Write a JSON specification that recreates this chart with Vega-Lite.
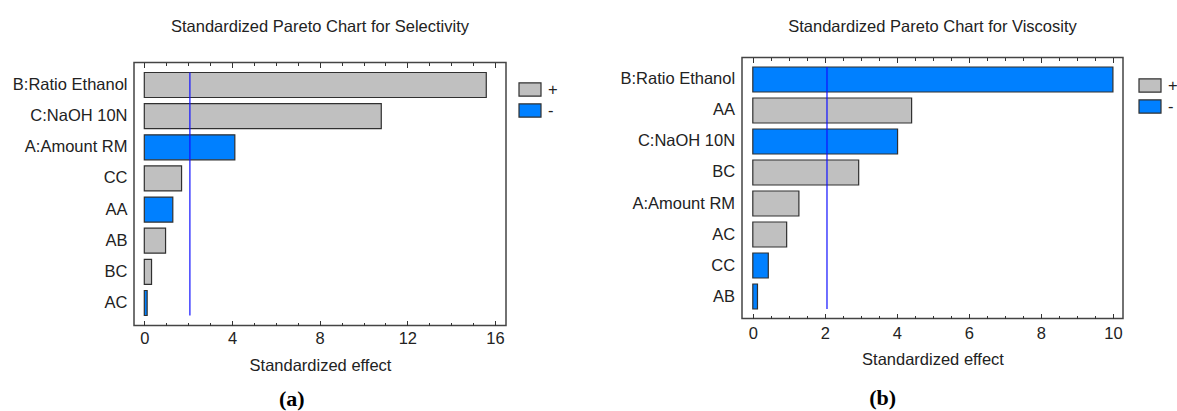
{
  "$schema": "https://vega.github.io/schema/vega-lite/v6.json",
  "padding": {"left": 11, "top": 16.5, "right": 0, "bottom": 0},
  "background": "white",
  "spacing": 61,
  "resolve": {"scale": {"color": "independent", "x": "independent", "y": "independent"}, "legend": {"color": "independent"}},
  "hconcat": [
    {
      "title": {"text": "(a)", "orient": "bottom", "font": "Liberation Serif", "fontSize": 22, "fontWeight": "bold", "color": "#000", "anchor": "middle", "offset": 14, "dx": 7},
      "spacing": 0,
      "vconcat": [
        {"width": 372, "height": 1, "view": {"stroke": null}, "data": {"values": []}, "mark": "text"},
        {
          "width": 372,
          "height": 263,
          "title": {"text": "Standardized Pareto Chart for Selectivity", "offset": 26.5},
          "data": {"values": [
            {"factor": "B:Ratio Ethanol", "effect": 15.6, "sign": "+"},
            {"factor": "C:NaOH 10N", "effect": 10.81, "sign": "+"},
            {"factor": "A:Amount RM", "effect": 4.13, "sign": "-"},
            {"factor": "CC", "effect": 1.7, "sign": "+"},
            {"factor": "AA", "effect": 1.3, "sign": "-"},
            {"factor": "AB", "effect": 0.97, "sign": "+"},
            {"factor": "BC", "effect": 0.33, "sign": "+"},
            {"factor": "AC", "effect": 0.13, "sign": "-"}
          ]},
          "resolve": {"axis": {"x": "independent"}},
          "layer": [
            {
              "mark": {"type": "bar", "stroke": "#303030", "strokeWidth": 1.2},
              "encoding": {
                "y": {"field": "factor", "type": "nominal", "sort": null,
                  "scale": {"domain": ["B:Ratio Ethanol", "C:NaOH 10N", "A:Amount RM", "CC", "AA", "AB", "BC", "AC"], "paddingInner": 0.197, "paddingOuter": 0.321},
                  "axis": {"title": null, "ticks": false, "labelPadding": 7}},
                "x": {"field": "effect", "type": "quantitative",
                  "scale": {"domain": [-0.47, 16.5], "nice": false, "zero": false},
                  "axis": {"orient": "bottom", "title": "Standardized effect", "values": [0,1,2,3,4,5,6,7,8,9,10,11,12,13,14,15,16],
                    "labelExpr": "datum.value % 4 === 0 ? datum.label : ''",
                    "tickSize": {"condition": {"test": "datum.value % 4 === 0", "value": -5}, "value": -3},
                    "labelPadding": 10, "labelOverlap": false, "labelFlush": false, "titlePadding": 8.5}},
                "color": {"field": "sign", "type": "nominal",
                  "scale": {"domain": ["+", "-"], "range": ["#C0C0C0", "#0080FF"]},
                  "legend": {"legendX": 384, "legendY": 61}}
              }
            },
            {
              "data": {"values": [{"crit": 2.08}]},
              "mark": {"type": "rule", "color": "#1010FF", "strokeWidth": 1.2},
              "encoding": {
                "x": {"field": "crit", "type": "quantitative",
                  "axis": {"orient": "top", "title": null, "labels": false, "values": [0,1,2,3,4,5,6,7,8,9,10,11,12,13,14,15,16],
                    "tickSize": {"condition": {"test": "datum.value % 4 === 0", "value": -5}, "value": -3}}},
                "y": {"datum": "B:Ratio Ethanol", "type": "nominal", "bandPosition": 0},
                "y2": {"datum": "AC", "bandPosition": 1}
              }
            }
          ]
        }
      ]
    },
    {
      "title": {"text": "(b)", "orient": "bottom", "font": "Liberation Serif", "fontSize": 22, "fontWeight": "bold", "color": "#000", "anchor": "middle", "offset": 19, "dx": -16},
      "spacing": 0,
      "vconcat": [
        {"width": 381, "height": 1, "view": {"stroke": null}, "data": {"values": []}, "mark": "text"},
        {
          "width": 381,
          "height": 261,
          "title": {"text": "Standardized Pareto Chart for Viscosity", "offset": 21.9},
          "data": {"values": [
            {"factor": "B:Ratio Ethanol", "effect": 10.0, "sign": "-"},
            {"factor": "AA", "effect": 4.41, "sign": "+"},
            {"factor": "C:NaOH 10N", "effect": 4.02, "sign": "-"},
            {"factor": "BC", "effect": 2.94, "sign": "+"},
            {"factor": "A:Amount RM", "effect": 1.28, "sign": "+"},
            {"factor": "AC", "effect": 0.94, "sign": "+"},
            {"factor": "CC", "effect": 0.43, "sign": "-"},
            {"factor": "AB", "effect": 0.13, "sign": "-"}
          ]},
          "resolve": {"axis": {"x": "independent"}},
          "layer": [
            {
              "mark": {"type": "bar", "stroke": "#303030", "strokeWidth": 1.2},
              "encoding": {
                "y": {"field": "factor", "type": "nominal", "sort": null,
                  "scale": {"domain": ["B:Ratio Ethanol", "AA", "C:NaOH 10N", "BC", "A:Amount RM", "AC", "CC", "AB"], "paddingInner": 0.194, "paddingOuter": 0.306},
                  "axis": {"title": null, "ticks": false, "labelPadding": 7.4}},
                "x": {"field": "effect", "type": "quantitative",
                  "scale": {"domain": [-0.3, 10.28], "nice": false, "zero": false},
                  "axis": {"orient": "bottom", "title": "Standardized effect", "values": [0,0.5,1,1.5,2,2.5,3,3.5,4,4.5,5,5.5,6,6.5,7,7.5,8,8.5,9,9.5,10],
                    "labelExpr": "datum.value % 2 === 0 ? format(datum.value, 'd') : ''",
                    "tickSize": {"condition": {"test": "datum.value % 2 === 0", "value": -5}, "value": -3},
                    "labelPadding": 11.5, "labelOverlap": false, "labelFlush": false, "titlePadding": 8.3}},
                "color": {"field": "sign", "type": "nominal",
                  "scale": {"domain": ["+", "-"], "range": ["#C0C0C0", "#0080FF"]},
                  "legend": {"legendX": 396, "legendY": 57}}
              }
            },
            {
              "data": {"values": [{"crit": 2.06}]},
              "mark": {"type": "rule", "color": "#1010FF", "strokeWidth": 1.2},
              "encoding": {
                "x": {"field": "crit", "type": "quantitative",
                  "axis": {"orient": "top", "title": null, "labels": false, "values": [0,0.5,1,1.5,2,2.5,3,3.5,4,4.5,5,5.5,6,6.5,7,7.5,8,8.5,9,9.5,10],
                    "tickSize": {"condition": {"test": "datum.value % 2 === 0", "value": -5}, "value": -3}}},
                "y": {"datum": "B:Ratio Ethanol", "type": "nominal", "bandPosition": 0},
                "y2": {"datum": "AB", "bandPosition": 1}
              }
            }
          ]
        }
      ]
    }
  ],
  "config": {
    "font": "Liberation Sans",
    "view": {"stroke": "#444", "strokeWidth": 1.5},
    "axis": {"labelFont": "Liberation Sans", "labelFontSize": 16.5, "labelColor": "#222", "titleFont": "Liberation Sans", "titleFontSize": 16.5, "titleFontWeight": "normal", "titleColor": "#222", "tickColor": "#333", "tickWidth": 1, "domain": false, "grid": false},
    "title": {"font": "Liberation Sans", "fontSize": 16.5, "fontWeight": "normal", "color": "#222", "anchor": "middle"},
    "legend": {"orient": "none", "title": null, "symbolType": "M-1,-0.6H1V0.6H-1Z", "symbolSize": 484, "symbolStrokeColor": "#303030", "symbolStrokeWidth": 1.2, "symbolOpacity": 1, "labelFont": "Liberation Sans", "labelFontSize": 16.5, "labelColor": "#222", "labelOffset": 6, "rowPadding": 0, "padding": 0}
  }
}
